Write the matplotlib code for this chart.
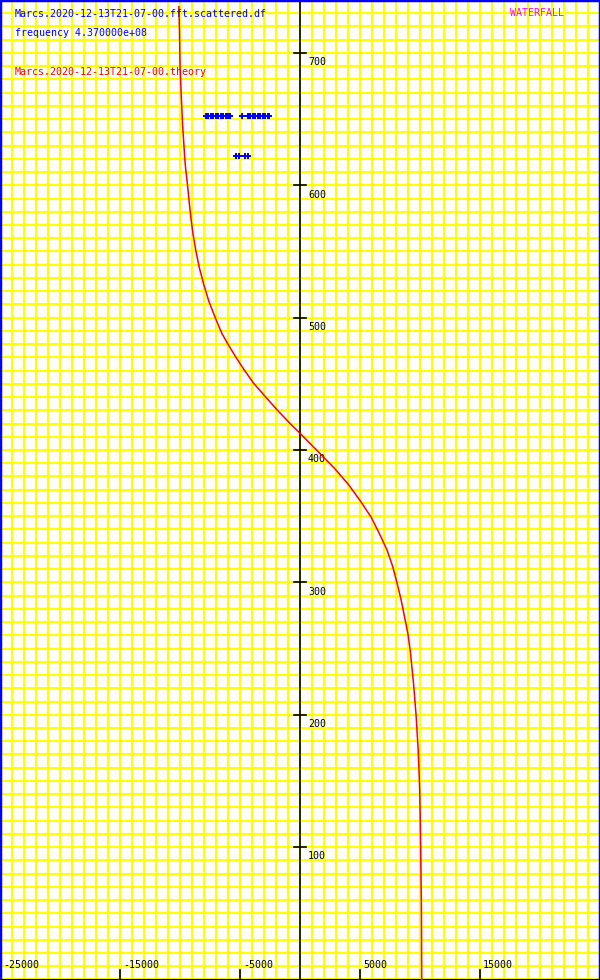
import numpy as np
import matplotlib.pyplot as plt
from matplotlib.transforms import blended_transform_factory

# curva teorica (Hz, tiempo)
teo_x = [-10117, -10067, -10017, -9900, -9817, -9708, -9625, -9545, -9400, -9265,
         -9115, -8935, -8700, -8417, -8056, -7639, -7111, -6528, -6056, -5389,
         -4667, -3889, -2917, -1944, -889, 83, 1450, 2800, 4000, 5000,
         5917, 6611, 7250, 7722, 8083, 8417, 8694, 8972, 9167, 9306,
         9444, 9556, 9667, 9750, 9833, 9883, 9967, 10025, 10108, 10133]
teo_y = [735, 717, 689, 664, 647, 632, 620, 612, 600.5, 588,
         575.5, 563, 550.5, 538, 525.5, 513, 500.5, 488, 480.5, 470.5,
         460.5, 450.5, 440.5, 430.5, 420.5, 411.75, 399.25, 386.75, 374.25, 361.75,
         349.25, 336.75, 324.25, 311.75, 299.25, 286.75, 274.25, 261.75, 249.25, 236.75,
         224.25, 211.75, 199.25, 186.75, 174.25, 163.5, 143, 113, 55, 0]

# puntos medidos (fft scattered)
med_x = [-7867, -7658, -7450, -7242, -7033, -6825, -6617, -6408, -6200, -5992, -5825,
         -4867,
         -4367, -4158, -3950, -3742, -3533, -3325, -3117, -2908, -2700, -2575,
         -5367, -5075, -4617, -4325]
med_y = [652.5] * 11 + [652.5] + [652.5] * 10 + [622.3] * 4

xticks = [-25000, -15000, -5000, 5000, 15000]
yticks = [100, 200, 300, 400, 500, 600, 700]

fig = plt.figure(figsize=(6, 9.8), dpi=100)
ax = fig.add_axes([0, 0, 1, 1])
ax.set_xlim(-25033, 24967)
ax.set_ylim(-0.4, 739.5)

# rejilla amarilla
ax.set_xticks(np.arange(-25000, 25001, 1000))
ax.set_yticks(np.arange(0, 741, 10))
ax.grid(True, color='#ffff00', lw=1.5, zorder=0)
ax.tick_params(length=0, labelbottom=False, labelleft=False)
ax.set_axisbelow(True)

for s in ['left', 'top', 'right']:
    ax.spines[s].set_color('#0000ff')
    ax.spines[s].set_linewidth(2.5)
ax.spines['bottom'].set_color('black')
ax.spines['bottom'].set_linewidth(1.5)

fuente = dict(family='DejaVu Sans Mono', fontsize=7.2)

# eje vertical en x=0
ax.axvline(0, color='black', lw=1.2, zorder=2)
for v in yticks:
    ax.plot([-500, 500], [v, v], color='black', lw=1.2, zorder=2)
    ax.text(650, v - 7, str(v), ha='left', va='center', color='black', **fuente)

tr = blended_transform_factory(ax.transData, ax.transAxes)
for v in xticks:
    ax.plot([v, v], [0, 10 / 980], color='black', lw=1.2, transform=tr, zorder=2)
    ax.text(v + 250, 15 / 980, str(v), ha='left', va='center', color='black',
            transform=tr, **fuente)

ax.plot(teo_x, teo_y, color='red', lw=1.1, zorder=3)
ax.plot(med_x, med_y, 'P', color='#0000ff', markersize=5, mew=0, zorder=4)

fig.text(15 / 600, 1 - 14 / 980, "Marcs.2020-12-13T21-07-00.fft.scattered.df",
         color='#0000ff', ha='left', va='center', **fuente)
fig.text(15 / 600, 1 - 33 / 980, "frequency 4.370000e+08",
         color='#0000ff', ha='left', va='center', **fuente)
fig.text(15 / 600, 1 - 72 / 980, "Marcs.2020-12-13T21-07-00.theory",
         color='red', ha='left', va='center', **fuente)
fig.text(510 / 600, 1 - 13 / 980, "WATERFALL",
         color='#ff00ff', ha='left', va='center', **fuente)

fig.savefig('out.png', dpi=100)
